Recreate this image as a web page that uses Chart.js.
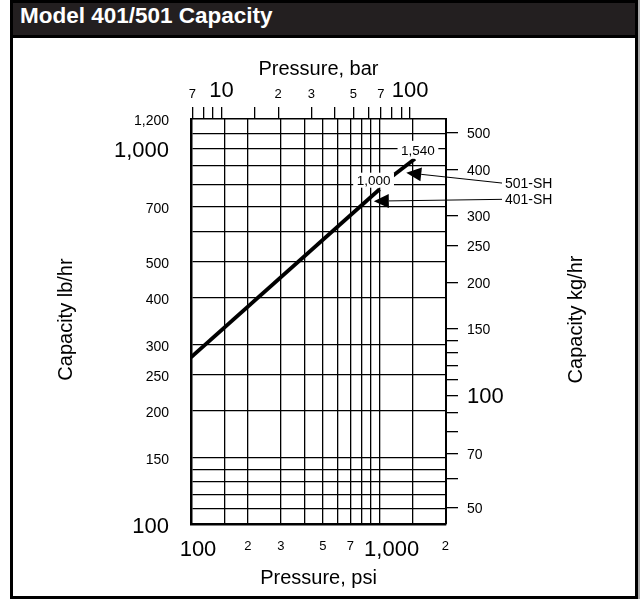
<!DOCTYPE html>
<html lang="en">
<head>
    <meta charset="UTF-8">
    <title>Model 401/501 Capacity</title>
    <script src="https://cdn.jsdelivr.net/npm/chart.js"></script>
    <style>
        body { margin: 0; background: #fff; }
        #frame {
            position: absolute; left: 10px; top: 0; width: 628px; height: 599px;
            border: 3px solid #000; box-sizing: border-box; background: #fff;
            box-shadow: 2px 0 0 #aaa;
        }
        #title {
            height: 32px; line-height: 39px; background: #231f20; border-bottom: 3px solid #000;
            color: #fff; font: bold 22.5px "Liberation Sans", Arial, sans-serif; padding-left: 7px;
            overflow: hidden;
        }
        #chart { position: absolute; left: 0; top: 0; }
    </style>
</head>
<body>
    <div id="frame"><div id="title">Model 401/501 Capacity</div></div>
    <canvas id="chart" width="641" height="599"></canvas>

    <script>
        // capacity curves (psi -> lb/hr)
        const pressure401 = [100, 1000];
        const capacity401 = [278, 780];
        const pressure501 = [1000, 1540];
        const capacity501 = [795, 940];

        // bottom axis, psi
        const psiGrid = [150, 200, 300, 400, 500, 600, 700, 800, 900, 1000, 1500];
        const psiLabelValues = [100, 200, 300, 500, 700, 1000, 2000];
        const psiLabelText = ['100', '2', '3', '5', '7', '1,000', '2'];

        // top axis, bar
        const barTicks = [7, 8, 9, 10, 15, 20, 30, 40, 50, 60, 70, 80, 90, 100];
        const barLabelValues = [7, 10, 20, 30, 50, 70, 100];
        const barLabelText = ['7', '10', '2', '3', '5', '7', '100'];

        // left axis, lb/hr
        const lbGrid = [110, 120, 130, 140, 150, 200, 250, 300, 400, 500, 600, 700, 800, 900, 1000, 1100];
        const lbLabelValues = [1200, 1000, 700, 500, 400, 300, 250, 200, 150, 100];
        const lbLabelText = ['1,200', '1,000', '700', '500', '400', '300', '250', '200', '150', '100'];

        // right axis, kg/hr
        const kgTicks = [50, 60, 70, 80, 90, 100, 110, 120, 130, 140, 150, 200, 250, 300, 400, 500];
        const kgLabelValues = [500, 400, 300, 250, 200, 150, 100, 70, 50];
        const kgLabelText = ['500', '400', '300', '250', '200', '150', '100', '70', '50'];

        // callouts: [text, psi, lb/hr]
        const endNotes = [['1,000', 1000, 780], ['1,540', 1540, 940]];
        const seriesNames = ['501-SH', '401-SH'];
        const arrowTipPsi = [1385, 932];
        const arrowTipLb = [863, 725];
        const nameLb = [810, 733];

        const PSI_MIN = 100, PSI_MAX = 2250, LB_MIN = 100, LB_MAX = 1200;
        const BAR_PER_PSI = 1 / 14.5038, KG_PER_LB = 0.45359;

        const FONT = '"Liberation Sans", Arial, sans-serif';
        const isDecade = v => Math.abs(Math.log10(v) - Math.round(Math.log10(v))) < 1e-9;
        const zeroSize = s => { if (s.isHorizontal()) s.height = 0; else s.width = 0; };
        const gridColor = '#000';

        const labelPlugin = {
            id: 'labels',
            afterDatasetsDraw(chart) {
                const ctx = chart.ctx;
                const { x, y } = chart.scales;
                // white boxes behind the end-point labels
                const offsets = { '1,000': [-6, -9], '1,540': [3, -9] };
                const boxH = { '1,000': 15, '1,540': 18 };
                ctx.save();
                ctx.font = '13.5px ' + FONT;
                ctx.textAlign = 'center';
                ctx.textBaseline = 'middle';
                endNotes.forEach(([t, p, c]) => {
                    const cx = x.getPixelForValue(p) + offsets[t][0];
                    const cy = y.getPixelForValue(c) + offsets[t][1];
                    const w = ctx.measureText(t).width + 7;
                    ctx.fillStyle = '#fff';
                    ctx.fillRect(cx - w / 2, cy - boxH[t] / 2, w, boxH[t]);
                    ctx.fillStyle = '#000';
                    ctx.fillText(t, cx, cy + 1);
                });
                ctx.restore();
            },
            afterDraw(chart) {
                const ctx = chart.ctx;
                const { x, y, x2, y2 } = chart.scales;
                const area = chart.chartArea;
                ctx.save();
                ctx.fillStyle = '#000';

                // left
                ctx.textAlign = 'right';
                ctx.textBaseline = 'middle';
                lbLabelValues.forEach((v, i) => {
                    ctx.font = (isDecade(v) ? 22 : 14) + 'px ' + FONT;
                    ctx.fillText(lbLabelText[i], area.left - 22, y.getPixelForValue(v) + 2.5);
                });

                // right
                ctx.textAlign = 'left';
                kgLabelValues.forEach((v, i) => {
                    ctx.font = (isDecade(v) ? 22 : 14) + 'px ' + FONT;
                    ctx.fillText(kgLabelText[i], area.right + 21, y2.getPixelForValue(v) + 1.5);
                });

                // top
                ctx.textAlign = 'center';
                barLabelValues.forEach((v, i) => {
                    const big = isDecade(v);
                    ctx.font = (big ? 22 : 13) + 'px ' + FONT;
                    ctx.fillText(barLabelText[i], x2.getPixelForValue(v), area.top - (big ? 28 : 25));
                });

                // bottom
                const nudge = { 100: 7, 1000: 12, 2000: 9 };
                psiLabelValues.forEach((v, i) => {
                    const big = isDecade(v);
                    ctx.font = (big ? 22 : 13) + 'px ' + FONT;
                    ctx.fillText(psiLabelText[i], x.getPixelForValue(v) + (nudge[v] || 0), area.bottom + (big ? 26 : 22));
                });

                // axis titles
                const midX = (area.left + area.right) / 2;
                const midY = (area.top + area.bottom) / 2;
                ctx.font = '20px ' + FONT;
                ctx.fillText('Pressure, bar', midX, area.top - 50);
                ctx.fillText('Pressure, psi', midX, area.bottom + 54);
                [[area.left - 125, 'Capacity lb/hr'], [area.right + 130, 'Capacity kg/hr']].forEach(([tx, t]) => {
                    ctx.save();
                    ctx.translate(tx, midY - 2);
                    ctx.rotate(-Math.PI / 2);
                    ctx.fillText(t, 0, 0);
                    ctx.restore();
                });

                // series callouts with arrows
                ctx.font = '14px ' + FONT;
                ctx.textAlign = 'left';
                ctx.lineWidth = 1;
                ctx.strokeStyle = '#000';
                seriesNames.forEach((name, i) => {
                    const lx = area.right + 59;
                    const ly = y.getPixelForValue(nameLb[i]);
                    const tx = x.getPixelForValue(arrowTipPsi[i]);
                    const ty = y.getPixelForValue(arrowTipLb[i]);
                    ctx.fillText(name, lx, ly + 1);
                    const ang = Math.atan2(ty - ly, tx - (lx - 3));
                    const len = 15, half = 7;
                    const bx = tx - Math.cos(ang) * len, by = ty - Math.sin(ang) * len;
                    ctx.beginPath();
                    ctx.moveTo(lx - 3, ly);
                    ctx.lineTo(bx, by);
                    ctx.stroke();
                    ctx.beginPath();
                    ctx.moveTo(tx, ty);
                    ctx.lineTo(bx - Math.sin(ang) * half, by + Math.cos(ang) * half);
                    ctx.lineTo(bx + Math.sin(ang) * half, by - Math.cos(ang) * half);
                    ctx.closePath();
                    ctx.fill();
                });
                ctx.restore();
            }
        };

        const toPoints = (xs, ys) => xs.map((v, i) => ({ x: v, y: ys[i] }));

        new Chart(document.getElementById('chart'), {
            type: 'scatter',
            data: {
                datasets: [
                    { label: '401-SH', data: toPoints(pressure401, capacity401) },
                    { label: '501-SH', data: toPoints(pressure501, capacity501) }
                ]
            },
            options: {
                responsive: false,
                animation: false,
                devicePixelRatio: 1,
                showLine: true,
                layout: { padding: { left: 191, top: 119, right: 195, bottom: 75 } },
                elements: {
                    point: { radius: 0 },
                    line: { borderColor: '#000', borderWidth: 3.8, borderCapStyle: 'butt' }
                },
                plugins: { legend: { display: false }, tooltip: { enabled: false } },
                scales: {
                    x: {
                        type: 'logarithmic', position: 'bottom', min: PSI_MIN, max: PSI_MAX,
                        afterBuildTicks: s => { s.ticks = psiGrid.map(v => ({ value: v })); },
                        afterFit: zeroSize,
                        ticks: { display: false },
                        grid: { color: gridColor, lineWidth: 1.3, drawTicks: false },
                        border: { color: '#000', width: 2.5 }
                    },
                    x2: {
                        type: 'logarithmic', position: 'top',
                        min: PSI_MIN * BAR_PER_PSI, max: PSI_MAX * BAR_PER_PSI,
                        afterBuildTicks: s => { s.ticks = barTicks.map(v => ({ value: v })); },
                        afterFit: zeroSize,
                        ticks: { display: false },
                        grid: { color: '#000', lineWidth: 1.3, drawOnChartArea: false, drawTicks: true, tickLength: 12 },
                        border: { color: '#000', width: 1.5 }
                    },
                    y: {
                        type: 'logarithmic', position: 'left', min: LB_MIN, max: LB_MAX,
                        afterBuildTicks: s => { s.ticks = lbGrid.map(v => ({ value: v })); },
                        afterFit: zeroSize,
                        ticks: { display: false },
                        grid: { color: gridColor, lineWidth: 1.3, drawTicks: false },
                        border: { color: '#000', width: 2.5 }
                    },
                    y2: {
                        type: 'logarithmic', position: 'right',
                        min: LB_MIN * KG_PER_LB, max: LB_MAX * KG_PER_LB,
                        afterBuildTicks: s => { s.ticks = kgTicks.map(v => ({ value: v })); },
                        afterFit: zeroSize,
                        ticks: { display: false },
                        grid: { color: '#000', lineWidth: 1.3, drawOnChartArea: false, drawTicks: true, tickLength: 12 },
                        border: { color: '#000', width: 2 }
                    }
                }
            },
            plugins: [labelPlugin]
        });
    </script>
</body>
</html>
